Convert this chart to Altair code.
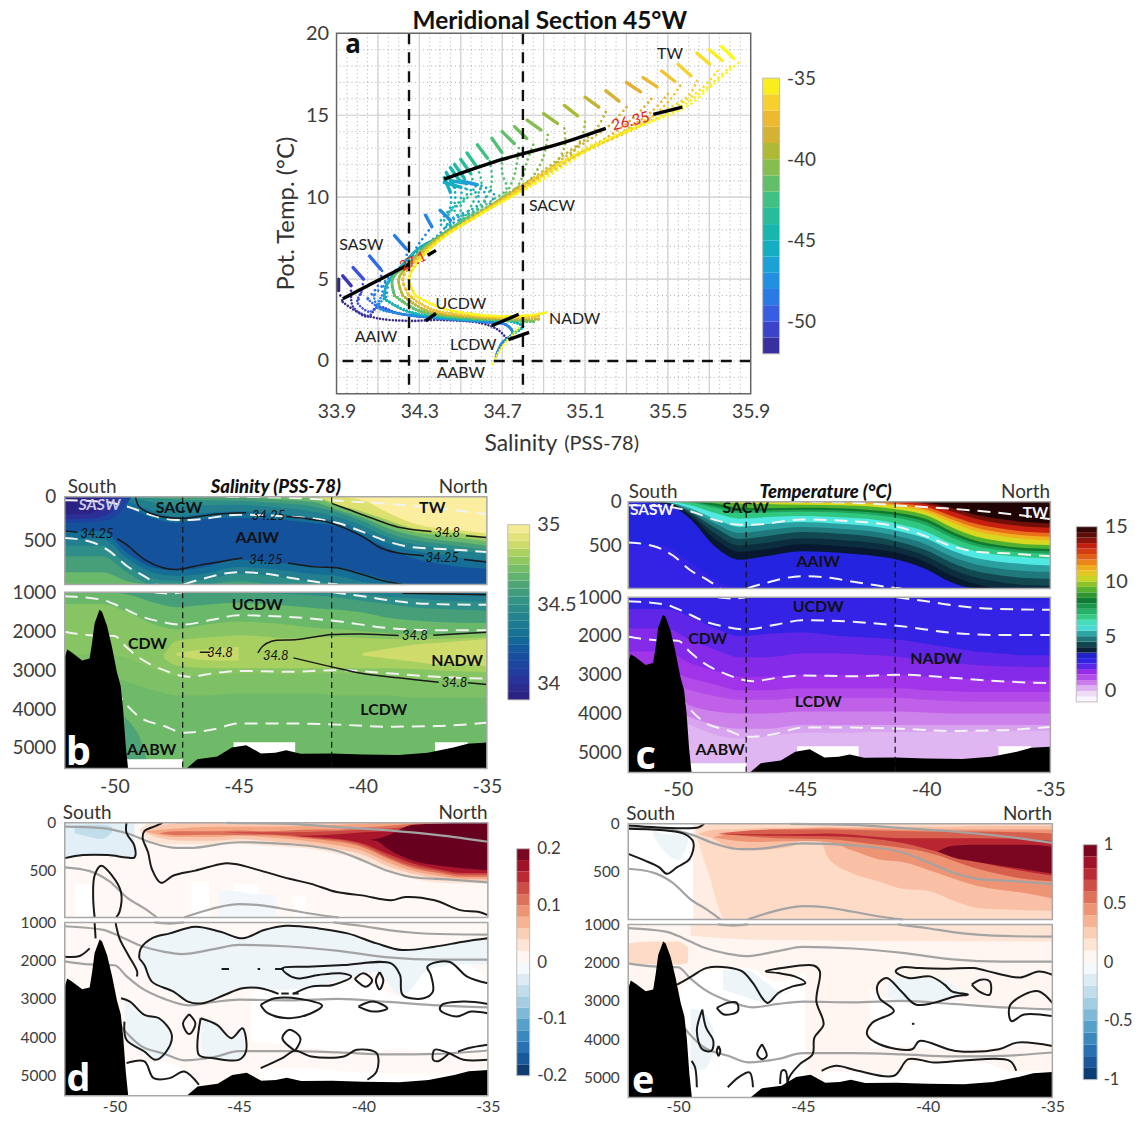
import altair as alt
import pandas as pd

FONT = "Lato"
INK = "#3c3c3c"
GAP_DEPTH = 1000.01   # first depth of the lower half of the broken depth axis

# ------------------------------------------------------------------ shared section values
L = [-52, -50.5, -49.5, -48.5, -47.5, -46.5, -45, -43.5, -42, -41, -40, -39, -38, -37, -36, -35]
LON_TICKS = [-50, -45, -40, -35]
SEAMOUNT_LON = [-52, -51.9, -51.7, -51.3, -51, -50.9, -50.8, -50.6, -50.5, -50.3, -50.1, -49.9, -49.75, -49.65, -49.55, -49.45]
SEAMOUNT_DEP = [2680, 2470, 2550, 2750, 2700, 2300, 1800, 1450, 1500, 1850, 2400, 3050, 3400, 4000, 4900, 5530]
RIDGE_LON = [-47.1, -46.66, -45.86, -45.27, -44.69, -44.1, -43.52, -43.08, -42.5, -41.25, -40.01, -38.55, -37.38, -36.35, -35.77, -35]
RIDGE_DEP = [5530, 5290, 5220, 4990, 4930, 5140, 5120, 5060, 5150, 5140, 5165, 5180, 5120, 4990, 4890, 4860]
WHITE_PATCH = [(-45.2, -42.72, 4850, 5160), (-37.09, -35.77, 4850, 5100), (-49.51, -47.25, 5290, 5530)]

ISO_TOP = [
    ([-45.5, -43, -41, -39, -37, -35], [0, 10, 45, 80, 130, 200]),
    ([-52, -50.5, -49.5, -48.5, -47.5, -47, -45, -43, -41, -40, -39, -38, -36.5, -35],
     [40, 55, 110, 210, 265, 265, 205, 225, 300, 400, 510, 575, 600, 630]),
    ([-52, -51, -50.2, -49.5, -48.8, -48.3], [470, 510, 620, 790, 905, 1000]),
    ([-47.2, -46.5, -45, -44, -43, -41.5, -41], [1000, 940, 860, 875, 920, 985, 1000]),
]
ISO_LOW = [
    ([-48.4, -47.8, -47.2], [1000, 1030, 1000]),
    ([-41.2, -40, -39, -38, -36.5, -35], [1000, 1100, 1200, 1270, 1310, 1320]),
    ([-52, -50.5, -49.8, -49, -48, -47.3, -46, -45, -43, -41, -39, -37, -35],
     [1100, 1190, 1360, 1600, 1770, 1830, 1700, 1590, 1630, 1745, 1915, 1975, 1975]),
    ([-52, -51, -50, -49.5, -49, -48, -47, -46, -45, -43, -41, -39, -37, -35],
     [2020, 2100, 2120, 2420, 2680, 3000, 3170, 3080, 3020, 3040, 3000, 3080, 3170, 3220]),
    ([-50, -49.5, -49, -48, -47.2, -46, -45, -43, -41, -39, -37, -35],
     [3500, 3900, 4200, 4436, 4607, 4520, 4368, 4368, 4400, 4453, 4436, 4350]),
]

# ------------------------------------------------------------------ salinity (b)
SAL_DOMAIN = [33.9, 34.0, 34.1, 34.2, 34.3, 34.4, 34.5, 34.6, 34.7, 34.8, 34.9, 35.0]
SAL_RANGE = ["#2b1f7c", "#2b2f96", "#1e429f", "#14529c", "#156e96", "#217f8f", "#2e8f88", "#479f7a",
             "#6ab86a", "#9bcc5e", "#dce06f", "#fbee9f"]
SAL_FILL_TOP = [
    (35.0, [0] * 16),
    (34.9, [0, 0, 0, 0, 0, 0, 0, 0, 0, 0, 40, 180, 300, 360, 385, 420]),
    (34.8, [0, 0, 0, 0, 0, 0, 0, 0, 0, 90, 170, 265, 360, 400, 420, 465]),
    (34.7, [0, 0, 0, 0, 0, 0, 0, 0, 15, 110, 200, 310, 400, 440, 470, 510]),
    (34.6, [0, 0, 0, 0, 0, 0, 10, 30, 60, 150, 240, 360, 440, 490, 520, 560]),
    (34.5, [0, 0, 0, 15, 30, 40, 45, 70, 110, 180, 280, 410, 490, 530, 570, 600]),
    (34.4, [0, 0, 5, 60, 110, 100, 90, 120, 170, 230, 330, 460, 540, 580, 620, 650]),
    (34.3, [0, 0, 50, 160, 230, 190, 165, 190, 240, 285, 390, 530, 610, 660, 700, 730]),
    (34.2, [0, 10, 110, 240, 300, 260, 240, 260, 300, 340, 450, 590, 700, 760, 800, 820]),
    (34.3, [400, 390, 640, 800, 840, 810, 720, 750, 790, 810, 870, 950, 1010, 1080, 1100, 1100]),
    (34.4, [480, 480, 700, 860, 900, 880, 800, 830, 880, 900, 970, 1050, 1100, 1100, 1100, 1100]),
    (34.5, [560, 560, 770, 930, 960, 950, 880, 910, 970, 990, 1060, 1100, 1100, 1100, 1100, 1100]),
    (34.6, [680, 680, 860, 1000, 1040, 1020, 960, 1000, 1050, 1080, 1100, 1100, 1100, 1100, 1100, 1100]),
    (34.7, [860, 860, 960, 1080, 1100, 1100, 1100, 1100, 1100, 1100, 1100, 1100, 1100, 1100, 1100, 1100]),
]
SAL_LENS_TOP = [
    (34.1, [-52, -51, -50, -49.6, -49.3], [0, 0, 0, 0, 0], [300, 290, 240, 120, 0]),
    (34.0, [-52, -51, -50.2, -49.8], [0, 0, 0, 0], [260, 250, 190, 80]),
    (33.92, [-52, -51, -50.5], [0, 0, 0], [200, 190, 120]),
]
SAL_FILL_LOW = [
    (34.3, [1000] * 16),
    (34.4, [1000, 1000, 1000, 1000, 1000, 1000, 1000, 1000, 1000, 1000, 1000, 1000, 1010, 1030, 1060, 1080]),
    (34.5, [1000, 1000, 1000, 1000, 1000, 1000, 1000, 1000, 1000, 1000, 1050, 1110, 1150, 1200, 1220, 1240]),
    (34.6, [1000, 1000, 1000, 1000, 1000, 1020, 1000, 1030, 1080, 1130, 1220, 1300, 1380, 1420, 1450, 1470]),
    (34.7, [1000, 1000, 1050, 1250, 1380, 1330, 1270, 1320, 1400, 1450, 1520, 1650, 1720, 1760, 1780, 1790]),
    (34.76, [1300, 1300, 1500, 1800, 1950, 1850, 1750, 1800, 1900, 1950, 2000, 2050, 2080, 2080, 2070, 2050]),
    (34.74, [2600, 2600, 2700, 2950, 3150, 3150, 3100, 3100, 3100, 3100, 3120, 3150, 3200, 3250, 3280, 3300]),
    (34.71, [3100, 3100, 3300, 3500, 3650, 3650, 3600, 3600, 3600, 3650, 3650, 3650, 3700, 3700, 3700, 3700]),
]
SAL_LENS_LOW = [
    (34.62, [-49.6, -49.3, -49, -48.7], [4200, 4400, 4700, 5300], [5530, 5530, 5530, 5530]),
    (34.82, [-48, -47.5, -46, -45, -43, -41, -39, -37, -35],
     [2600, 2250, 2150, 2100, 2180, 2150, 2200, 2200, 2150], [2700, 2880, 2950, 2950, 2950, 2950, 2950, 3000, 3050]),
    (34.88, [-40, -39, -38, -37, -36, -35], [2560, 2450, 2350, 2300, 2250, 2200], [2620, 2700, 2780, 2850, 2850, 2900]),
    (34.87, [-47.5, -46, -45], [2550, 2450, 2400], [2620, 2750, 2750]),
]
SAL_LINES_TOP = [
    ([-49.15, -49, -48.34, -47.32, -45.86, -44.69], [0, 113, 208, 245, 196, 181]),
    ([-43.08, -41.91, -41.25, -40.01, -39.28, -38.55, -37.53], [226, 264, 302, 453, 585, 642, 672]),
    ([-35.92, -35], [717, 743]),
    ([-52, -51.49], [389, 404]),
    ([-49.88, -49.51, -48.78, -48.05, -47.47, -46.44, -44.84], [479, 547, 717, 811, 830, 774, 698]),
    ([-43.01, -41.91, -41.04, -40.01, -39.13, -38.4], [755, 800, 811, 887, 962, 1000]),
    ([-41.25, -40.6, -39.43, -38.55, -37.23], [75, 143, 264, 347, 396]),
    ([-35.84, -35], [445, 464]),
]
SAL_LINES_LOW = [
    ([-38.4, -35], [1020, 1060]),
    ([-46.56, -46.15], [2539, 2539]),
    ([-44.22, -44.03, -43.67, -42.64, -41.25, -40.01, -38.55], [2556, 2385, 2257, 2214, 2086, 2069, 2111]),
    ([-37.16, -35.92, -35], [2103, 2060, 2026]),
    ([-42.79, -41.25, -40.01, -38.55, -36.94], [2684, 2915, 3086, 3197, 3308]),
    ([-35.77, -35], [3326, 3368]),
]

# ------------------------------------------------------------------ temperature (c)
TMP_DOMAIN = [-1, -0.3, 0.3, 1, 1.7, 2.5, 3.2, 3.6, 4.3, 5.2, 5.9, 6.8, 8.3, 9.2, 10.4, 11.2, 12, 13.2, 14, 15]
TMP_RANGE = ["#ffffff", "#efdff8", "#dcaef0", "#c060e8", "#9c2ce8", "#3a22e6", "#2424e0", "#081830", "#124850",
             "#2aa0a0", "#50e8e0", "#30c880", "#0e7a30", "#50b030", "#d8d820", "#f0b020", "#e87018", "#c82010",
             "#701008", "#200404"]
TMP_FILL_TOP = [
    (15, [0] * 16),
    (14, [0, 0, 0, 0, 0, 0, 0, 0, 0, 0, 10, 70, 150, 200, 235, 250]),
    (13.2, [0, 0, 0, 0, 0, 0, 0, 0, 0, 0, 30, 110, 195, 250, 285, 300]),
    (12, [0, 0, 0, 0, 0, 0, 0, 0, 0, 20, 60, 160, 255, 310, 345, 360]),
    (11.2, [0, 0, 0, 0, 0, 0, 0, 0, 10, 40, 90, 200, 300, 355, 390, 405]),
    (10.4, [0, 0, 0, 0, 0, 0, 10, 15, 30, 60, 115, 235, 340, 395, 430, 445]),
    (9.2, [0, 0, 0, 0, 20, 25, 35, 40, 60, 95, 155, 290, 400, 455, 490, 500]),
    (8.3, [0, 0, 0, 20, 70, 75, 70, 75, 100, 135, 200, 340, 450, 505, 535, 545]),
    (7.5, [0, 0, 5, 45, 100, 100, 92, 100, 128, 165, 235, 375, 480, 532, 562, 572]),
    (6.8, [0, 0, 10, 70, 130, 125, 115, 125, 155, 195, 270, 410, 510, 560, 590, 600]),
    (5.9, [0, 0, 40, 130, 195, 180, 165, 180, 210, 265, 345, 480, 570, 615, 640, 655]),
    (5.2, [0, 5, 75, 200, 290, 260, 235, 255, 290, 345, 425, 560, 650, 695, 720, 735]),
    (4.8, [0, 7, 97, 250, 360, 330, 292, 312, 350, 408, 492, 630, 725, 772, 800, 812]),
    (4.3, [0, 10, 120, 300, 430, 400, 350, 370, 410, 470, 560, 700, 800, 850, 880, 890]),
    (3.9, [0, 12, 140, 365, 505, 475, 420, 440, 480, 535, 630, 775, 875, 930, 960, 970]),
    (3.6, [0, 15, 160, 430, 580, 550, 490, 510, 550, 600, 700, 850, 950, 1010, 1040, 1050]),
    (3.2, [0, 25, 200, 520, 670, 630, 570, 590, 630, 680, 780, 930, 1040, 1100, 1100, 1100]),
    (2.7, [500, 520, 700, 900, 1000, 1000, 1000, 1000, 1000, 1050, 1100, 1100, 1100, 1100, 1100, 1100]),
]
TMP_FILL_LOW = [
    (3.2, [1000] * 16),
    (2.7, [1000, 1000, 1000, 1000, 1000, 1000, 1000, 1000, 1000, 1000, 1020, 1050, 1060, 1070, 1080, 1080]),
    (2.2, [1300, 1300, 1500, 1800, 2000, 1950, 1900, 2000, 2050, 2100, 2200, 2300, 2400, 2450, 2500, 2500]),
    (1.9, [1800, 1800, 2100, 2350, 2550, 2550, 2450, 2450, 2500, 2550, 2650, 2700, 2750, 2780, 2800, 2800]),
    (1.6, [2400, 2400, 2700, 2900, 3050, 3050, 3000, 3000, 3000, 3000, 3050, 3100, 3120, 3150, 3150, 3150]),
    (1.3, [2900, 2900, 3100, 3250, 3400, 3400, 3350, 3350, 3350, 3350, 3400, 3420, 3450, 3450, 3450, 3450]),
    (1.0, [3200, 3200, 3400, 3550, 3650, 3650, 3600, 3600, 3600, 3600, 3650, 3680, 3700, 3700, 3700, 3700]),
    (0.7, [3500, 3500, 3800, 3950, 4000, 4000, 3950, 3950, 3950, 3950, 3980, 4000, 4000, 4000, 4000, 4000]),
    (0.4, [3800, 3800, 4100, 4300, 4400, 4400, 4300, 4300, 4300, 4300, 4300, 4300, 4300, 4300, 4300, 4300]),
    (0.2, [4000, 4000, 4300, 4550, 4650, 4600, 4500, 4500, 4480, 4480, 4480, 4480, 4460, 4460, 4450, 4450]),
]

# ------------------------------------------------------------------ trends (d, e)
RDBU = ["#053061", "#2166ac", "#4393c3", "#92c5de", "#d1e5f0", "#ffffff", "#fddbc7", "#f4a582", "#d6604d", "#b2182b", "#67001f"]
D_DOMAIN = [-0.2, -0.16, -0.12, -0.08, -0.04, 0, 0.04, 0.08, 0.12, 0.16, 0.2]
E_DOMAIN = [-1, -0.8, -0.6, -0.4, -0.2, 0, 0.2, 0.4, 0.6, 0.8, 1]

D_LENS_TOP = [
    (0.008, [-52, -35], [0, 0], [1100, 1100]),
    (0.0, [-51.6, -50.9], [650, 650], [1000, 1000]),
    (0.0, [-46.9, -46.2], [620, 620], [1000, 1000]),
    (0.0, [-45.2, -44.2], [650, 650], [1000, 1000]),
    (-0.012, [-45.8, -45.2, -44.2, -43.5], [720, 720, 760, 760], [1000, 1000, 1000, 1000]),
    (0.0, [-42.8, -42.3], [780, 780], [1000, 1000]),
    (-0.025, [-52, -50.5, -49.9, -49.5, -49.2], [0, 0, 0, 0, 0], [370, 340, 340, 360, 360]),
    (-0.05, [-51.6, -51, -50.5, -50.1], [30, 20, 20, 40], [110, 150, 170, 100]),
    (0.03, [-49, -48.5, -47.5, -46, -45, -44, -42, -41, -40, -39, -38, -37, -36, -35],
     [70, 0, 0, 0, 0, 0, 0, 0, 0, 0, 0, 0, 0, 0],
     [70, 200, 230, 230, 220, 240, 280, 330, 400, 520, 590, 630, 640, 640]),
    (0.055, [-48.9, -48, -47, -46, -45, -44, -42, -41, -40, -39, -38, -37, -36, -35],
     [85, 20, 0, 0, 0, 0, 0, 0, 0, 0, 0, 0, 0, 0],
     [85, 170, 190, 190, 170, 190, 240, 280, 340, 460, 540, 590, 610, 620]),
    (0.08, [-48.8, -47.5, -46, -45, -44, -42, -41, -40, -39, -38, -37, -36, -35],
     [90, 60, 40, 40, 40, 30, 20, 10, 0, 0, 0, 0, 0],
     [90, 150, 150, 130, 150, 200, 240, 300, 420, 510, 560, 590, 590]),
    (0.11, [-48.2, -47.5, -46, -45, -44, -42, -41, -40, -39, -38, -37, -36, -35],
     [110, 90, 90, 80, 90, 70, 70, 50, 30, 10, 0, 0, 0],
     [110, 130, 125, 130, 130, 170, 200, 260, 380, 480, 530, 570, 570]),
    (0.135, [-45.6, -45, -43, -41.5, -41, -40, -39, -38, -37, -36, -35],
     [105, 100, 100, 90, 85, 70, 60, 30, 10, 10, 0], [105, 110, 130, 170, 180, 240, 360, 460, 510, 550, 550]),
    (0.165, [-42.8, -42, -41, -40, -39, -38, -37, -36, -35],
     [140, 135, 120, 100, 90, 50, 20, 30, 30], [140, 150, 170, 220, 330, 430, 490, 530, 530]),
    (0.2, [-39.9, -39.5, -39, -38, -37, -36, -35], [180, 170, 130, 20, 10, 0, 0], [180, 190, 280, 400, 450, 480, 500]),
]
D_LENS_LOW = [
    (0.008, [-52, -35], [1000, 1000], [5530, 5530]),
    (-0.016, [-49, -48.5, -47.8, -46.8, -45.7, -44.9, -44, -43, -41.8, -40.6, -39.5, -38.5, -37.2, -36, -35],
     [1900, 1420, 1290, 1110, 1240, 1420, 1200, 1090, 1160, 1290, 1550, 1720, 1640, 1500, 1420],
     [2000, 2550, 2810, 3100, 2900, 2720, 2720, 2860, 2680, 2450, 2300, 2900, 2350, 2100, 2100]),
    (0.0, [-44.5, -42, -40, -38.5, -37.3, -36, -35], [2800, 2700, 2500, 2950, 2200, 2100, 2500],
     [4100, 4300, 4400, 4300, 4400, 4400, 4400]),
    (-0.016, [-49.6, -48.8, -48.2, -47.7], [3000, 3420, 3500, 3940], [4070, 4380, 4590, 4400]),
    (-0.016, [-46.5, -45.9, -45.3, -44.8], [3510, 3680, 4030, 3770], [4460, 4550, 4590, 4590]),
    (0.0, [-49.5, -48.2, -47, -46.6], [4650, 4650, 5000, 5300], [5530, 5530, 5530, 5530]),
    (0.0, [-44.2, -42.5, -39.5, -36.5, -35], [4800, 4800, 4950, 4950, 4800], [5300, 5300, 5300, 5300, 5300]),
]
D_LINES_TOP = [
    ([-52, -51.27, -50.25, -49.52, -49.2, -49.2, -49.52, -49.52], [373, 341, 341, 366, 366, 244, 105, 0]),
    ([-48.07, -48.36, -48.8, -48.87, -48.65, -48.5, -48.14, -47.63, -46.76, -45.6, -45.15, -44.13, -42.97, -42.1,
      -41.07, -40.06, -38.89, -38.31, -37.14, -36.12, -35.39, -35],
     [0, 35, 87, 157, 314, 488, 634, 557, 505, 429, 436, 505, 592, 645, 732, 767, 819, 784, 819, 923, 941, 976]),
    ([-50.8, -50.86, -50.8, -50.54, -50.1, -49.74, -49.8, -49.93], [1000, 767, 557, 453, 557, 732, 941, 1000]),
]
D_LINES_LOW = [
    ([-50.8, -50.76], [1000, 1417]),
    ([-49.96, -49.8, -49.45, -49.09, -49.1], [1000, 1417, 1852, 2287, 2417]),
    ([-52, -51.4, -51], [1896, 1878, 1680]),
    ([-49.01, -48.94, -48.5, -47.78, -46.76, -45.74, -44.86, -43.99, -43.11, -41.8, -40.64, -39.47, -38.45, -37.14, -35.98, -35],
     [1939, 1678, 1417, 1287, 1113, 1244, 1417, 1200, 1087, 1157, 1287, 1548, 1722, 1635, 1505, 1417]),
    ([-49.01, -48.8, -48.5, -47.63, -47.05, -46.46, -45.59, -44.86, -44.13, -43.41],
     [1939, 2114, 2549, 2810, 3071, 3114, 2897, 2723, 2723, 2870]),
    ([-42.82, -42.1, -41.22, -40.49, -40.93, -41.8, -42.68, -43.11, -43.26, -42.24, -40.78, -38.89, -38.53, -38.42,
      -37.58, -37.21, -37.29, -37.43, -36.56, -35.83, -35],
     [2870, 2679, 2636, 2418, 2331, 2375, 2462, 2331, 2200, 2157, 2114, 2070, 2375, 2897, 2984, 2810, 2375, 2157, 2027, 2418, 2592]),
    ([-40.35, -40.0, -39.65, -39.9, -40.35], [2480, 2330, 2520, 2680, 2480]),
    ([-39.35, -39.2, -39.35, -39.5, -39.35], [2300, 2520, 2750, 2520, 2300]),
    ([-44.13, -43.55, -42.53, -41.66, -42.1, -42.97, -43.84, -44.13], [3158, 2984, 3001, 3175, 3375, 3505, 3375, 3158]),
    ([-40.2, -39.6, -39.04, -39.6, -40.2], [3200, 3070, 3250, 3330, 3200]),
    ([-35, -35.98, -36.85, -36.92, -36.27, -35.68, -35], [3131, 3071, 3158, 3288, 3462, 3332, 3375]),
    ([-49.74, -49.38, -48.8, -48.21, -47.7, -47.92, -48.36, -48.8, -49.52, -49.6],
     [2984, 3071, 3419, 3506, 3941, 4376, 4593, 4376, 4071, 3593]),
    ([-47, -46.75, -47, -47.25, -47], [3400, 3650, 3920, 3650, 3400]),
    ([-46.54, -45.88, -45.3, -44.86, -44.72, -45.01, -46.03, -46.61, -46.54],
     [3506, 3680, 4027, 3767, 4376, 4593, 4550, 4463, 3506]),
    ([-42.75, -43.26, -42.97, -42.53, -42.75], [4358, 4027, 3810, 4027, 4358]),
    ([-44.13, -43.26, -42.75, -42.1, -40.78, -40.27, -39.47, -39.47, -39.84],
     [4811, 4550, 4358, 4506, 4506, 4332, 4419, 4898, 5115]),
    ([-35, -35.98, -36.56, -37.14, -37.2, -37, -36.56], [4590, 4590, 4420, 4330, 4590, 4630, 4420]),
    ([-36.2, -35.8, -35], [4380, 4290, 4200]),
    ([-49.52, -48.8, -48.43, -47.78, -47.2, -46.61], [4680, 4637, 5072, 5072, 4898, 5246]),
    ([-45.7, -45.4], [2218, 2218]),
    ([-44.25, -44.15], [2218, 2218]),
    ([-43.55, -43.2], [2218, 2218]),
    ([-43.3, -43.0], [2860, 2860]),
    ([-42.85, -42.6], [2860, 2860]),
]

E_LENS_TOP = [
    (0.1, [-49.4, -35], [0, 0], [1100, 1100]),
    (0.0, [-52, -49.4], [0, 0], [1100, 1100]),
    (-0.08, [-51, -50.5, -50, -49.6], [60, 110, 110, 90], [120, 300, 380, 200]),
    (0.2, [-49.3, -48.8, -48.1, -46, -35], [40, 10, 0, 0, 0], [100, 500, 1000, 1100, 1100]),
    (0.3, [-49.2, -48.5, -48, -47, -46.5, -45.5, -45, -44.3, -44, -43, -42, -41, -40, -39, -38, -36.5, -35],
     [110, 60, 60, 50, 40, 40, 40, 30, 30, 30, 30, 30, 30, 30, 20, 20, 20],
     [110, 170, 250, 280, 270, 240, 170, 180, 350, 520, 600, 680, 700, 800, 880, 900, 910]),
    (0.45, [-48.6, -47, -45, -44, -43, -42, -41, -40, -38, -36, -35],
     [140, 70, 50, 40, 50, 50, 60, 60, 60, 60, 60], [140, 190, 180, 190, 280, 370, 400, 480, 650, 730, 780]),
    (0.6, [-48.4, -46, -44, -42, -40, -38, -36, -35], [100, 60, 60, 70, 80, 80, 90, 100], [100, 150, 160, 220, 300, 470, 580, 600]),
    (0.76, [-48.5, -46, -44, -41, -39.5, -38, -36, -35], [110, 110, 100, 150, 150, 150, 160, 180], [110, 125, 130, 200, 300, 400, 500, 540]),
    (0.95, [-39.6, -39, -38, -36, -35], [290, 230, 220, 220, 240], [290, 350, 400, 480, 520]),
]
E_LENS_LOW = [
    (0.05, [-52, -35], [1000, 1000], [5530, 5530]),
    (0.15, [-49.5, -47, -35], [1000, 1000, 1000], [1300, 1400, 1450]),
    (0.2, [-52, -51, -50, -49.6], [1500, 1450, 1450, 1600], [2000, 2050, 2050, 2000]),
    (0.0, [-49.9, -48.8, -47.2, -46, -44.6], [2700, 2200, 2150, 2500, 2100], [5530, 5530, 5530, 5530, 5530]),
    (-0.08, [-48.2, -47.3, -46.5, -45.8, -45], [2200, 2200, 2500, 2800, 2600], [2700, 2900, 3050, 2800, 2650]),
    (-0.08, [-49.5, -49, -48.6], [3200, 3300, 3700], [4800, 4800, 4400]),
    (0.05, [-44.9, -44.4, -42.3, -41.8], [1900, 1900, 1900, 1900], [5000, 5000, 5000, 5000]),
    (0.0, [-42.3, -41, -39, -37, -36.6, -35], [2700, 3050, 3000, 3200, 3200, 3300], [4250, 4200, 4300, 4200, 4150, 4150]),
    (-0.08, [-41.6, -41, -40, -39, -38.5], [2500, 2400, 2400, 2550, 2850], [2900, 3050, 3050, 2900, 2880]),
    (0.0, [-44.2, -42, -41.2, -40.5, -38, -36.4, -35], [4850, 4900, 4950, 4600, 4600, 4850, 4850], [5300, 5300, 5300, 5300, 5300, 5300, 5300]),
]
E_LINES_TOP = [
    ([-52, -51.35, -50.77, -50.45, -50.04, -49.54, -49.39, -49.75, -50.48, -52], [314, 383, 453, 523, 453, 366, 192, 105, 70, 52]),
    ([-52, -50.04, -49.17, -48.96], [17, 45, 35, 0]),
]
E_LINES_LOW = [
    ([-50.04, -49.46, -48.88, -48.01, -47.43, -47, -46.42, -45.99, -45.41, -44.9, -45.33, -45.99, -46.49, -45.84, -44.54,
      -44.32, -44.46, -44.17, -44.54, -44.61, -45.12, -45.55, -45.62],
     [2576, 2360, 2143, 2126, 2230, 2533, 3053, 2793, 2620, 2533, 2360, 2273, 2230, 2143, 2082, 2230, 3009, 3615, 3962,
      4395, 4654, 5000, 5174]),
    ([-48.45, -48.01, -47.65, -47.61, -48.16, -48.45], [3182, 3052, 3052, 3269, 3355, 3182]),
    ([-49.03, -48.88, -48.59, -48.67, -49.03, -49.25, -49.03], [3226, 3702, 4048, 4308, 4265, 3789, 3226]),
    ([-48.38, -48.31, -48.38, -48.45, -48.38], [4178, 4308, 4438, 4308, 4178]),
    ([-46.64, -46.45, -46.64, -46.83, -46.64], [4135, 4438, 4525, 4395, 4135]),
    ([-49.46, -49.32, -49.25], [4568, 4741, 5260]),
    ([-48.01, -47.58, -47.14, -47], [5260, 5000, 4870, 5260]),
    ([-45.91, -45.84, -45.7, -45.62], [5174, 4828, 4828, 5174]),
    ([-44.25, -43.67, -42.8, -41.35, -40.77, -39.75, -38.45, -36.71, -36.45], [4828, 4698, 4828, 4958, 4525, 4611, 4551, 4568, 4828]),
    ([-35, -35.55, -36.28, -37.29, -38.16, -39.17, -40.33, -41.06, -41.28, -40.77, -39.9, -39.32, -39.03, -38.38, -38.88,
      -39.75, -40.48, -41.06, -41.64, -42, -41.93, -41.35, -42.22, -42.43, -41.93, -40.62, -40.33, -38.88, -37.14, -36.42, -35],
     [2316, 2230, 2386, 2273, 2143, 2160, 2143, 2126, 2230, 2403, 2360, 2576, 2749, 2836, 2879, 3052, 3096, 2749, 2403,
      2576, 2923, 3269, 3572, 3875, 4135, 4265, 4048, 4308, 4265, 4092, 4178]),
    ([-38.23, -37.87, -37.51, -37.51, -37.94, -38.23], [2576, 2446, 2490, 2836, 2749, 2576]),
    ([-35, -35.55, -36.13, -36.71, -36.64, -36.13, -35], [3052, 2749, 2836, 3139, 3529, 3356, 3399]),
    ([-40.63, -40.53], [3600, 3600]),
]

# ------------------------------------------------------------------ T-S diagram (a)
LAT_DOMAIN = [-52, -51, -50, -48.5, -47, -45, -43, -41, -39.5, -38, -36.5, -35]
LAT_RANGE = ["#352a87", "#3a36b5", "#3e50e0", "#2a7ae6", "#1f9adf", "#10b4b8", "#2fc090", "#72bf5c", "#aeb935",
             "#e8ae32", "#f7d02e", "#f9fb15"]
MID_1 = [(34.6, 9.0), (34.4, 7.4), (34.29, 6.0), (34.25, 5.0), (34.28, 4.0), (34.4, 3.25), (34.6, 2.8), (34.8, 2.75), (34.91, 2.95)]
MID_2 = [(34.58, 8.9), (34.38, 7.3), (34.27, 6.0), (34.22, 5.0), (34.25, 4.0), (34.36, 3.15), (34.6, 2.7), (34.8, 2.65), (34.89, 2.75)]
MID_3 = [(34.55, 8.7), (34.36, 7.2), (34.26, 6.0), (34.2, 5.0), (34.22, 4.0), (34.33, 3.1), (34.58, 2.65), (34.8, 2.55), (34.88, 2.55)]
MID_C = [(34.5, 8.5), (34.35, 7.2), (34.25, 6.0), (34.17, 5.0), (34.18, 4.0), (34.3, 3.05), (34.55, 2.6), (34.78, 2.45), (34.85, 2.4)]
MID_S = [(34.45, 8.0), (34.3, 6.9), (34.2, 5.6), (34.14, 4.6), (34.13, 3.8), (34.25, 3.0), (34.5, 2.55), (34.75, 2.4), (34.8, 2.1), (34.74, 1.6)]
MID_SS = [(34.1, 3.3), (34.2, 2.9), (34.4, 2.6), (34.6, 2.4), (34.72, 2.2), (34.75, 1.7), (34.7, 1.1), (34.67, 0.3)]
STATIONS = [
    (-52, [(33.91, 5.0), (33.91, 4.3), (33.93, 3.6), (34.0, 3.0), (34.1, 2.6), (34.25, 2.45), (34.4, 2.5), (34.6, 2.3), (34.68, 1.9), (34.72, 1.4)], []),
    (-51, [(33.93, 5.2), (33.97, 4.6), (33.97, 3.9), (33.98, 3.3), (34.05, 2.7)], MID_SS),
    (-50, [(33.98, 5.7), (34.03, 5.0), (34.02, 4.2), (34.0, 3.6), (34.06, 3.0)], MID_SS),
    (-49, [(34.06, 6.4), (34.12, 5.5), (34.1, 4.6), (34.05, 3.8)], MID_SS),
    (-48.5, [(34.18, 7.65), (34.24, 6.8), (34.23, 6.0), (34.15, 5.0), (34.08, 4.0)], MID_SS),
    (-48, [(34.33, 8.9), (34.36, 8.2), (34.3, 7.2), (34.25, 6.2), (34.14, 5.0), (34.12, 4.0)], MID_SS),
    (-47.5, [(34.4, 9.2), (34.45, 8.6), (34.4, 7.8), (34.3, 6.8), (34.16, 5.0), (34.14, 3.9)], MID_SS),
    (-47, [(34.5, 11.0), (34.6, 10.7), (34.66, 10.2), (34.62, 9.3), (34.45, 8.3)], MID_S),
    (-46.5, [(34.45, 11.0), (34.55, 10.8), (34.62, 10.2), (34.6, 9.4), (34.45, 8.5)], MID_S),
    (-46, [(34.42, 10.9), (34.5, 10.6), (34.58, 10.2), (34.58, 9.5), (34.45, 8.6)], MID_S),
    (-45.5, [(34.42, 11.2), (34.45, 10.3), (34.45, 9.4), (34.4, 8.4)], MID_S),
    (-45, [(34.43, 11.5), (34.47, 10.6), (34.47, 9.6), (34.42, 8.6)], MID_S),
    (-44.5, [(34.45, 11.8), (34.5, 10.9), (34.5, 9.9), (34.44, 8.9)], MID_S),
    (-44, [(34.47, 12.0), (34.52, 11.1), (34.53, 10.2), (34.47, 9.2)], MID_C),
    (-43.5, [(34.5, 12.3), (34.55, 11.4), (34.56, 10.4), (34.5, 9.5)], MID_C),
    (-43, [(34.53, 12.7), (34.58, 11.8), (34.6, 10.8), (34.56, 9.7)], MID_C),
    (-42.5, [(34.58, 13.2), (34.64, 12.2), (34.65, 11.0), (34.62, 9.9)], MID_C),
    (-42, [(34.65, 13.6), (34.7, 12.7), (34.7, 11.5), (34.72, 10.5), (34.65, 9.8)], MID_C),
    (-41.5, [(34.7, 14.0), (34.78, 13.0), (34.77, 12.0), (34.75, 11.0), (34.7, 10.0)], MID_C),
    (-41, [(34.76, 14.3), (34.85, 13.2), (34.82, 12.2), (34.8, 11.3), (34.75, 10.3)], MID_C),
    (-40.5, [(34.82, 14.7), (34.92, 13.8), (34.9, 12.5), (34.85, 11.3), (34.78, 10.5)], MID_3),
    (-40, [(34.9, 15.1), (35.0, 14.2), (35.0, 13.0), (34.92, 11.6), (34.78, 10.6)], MID_3),
    (-39.5, [(35.0, 15.6), (35.1, 14.6), (35.08, 13.5), (34.98, 11.9), (34.8, 10.8)], MID_3),
    (-39, [(35.1, 16.1), (35.2, 15.2), (35.15, 14.1), (34.98, 12.4), (34.82, 10.9)], MID_3),
    (-38.5, [(35.2, 16.5), (35.3, 15.5), (35.22, 14.4), (35.05, 12.9), (34.85, 11.0)], MID_2),
    (-38, [(35.3, 17.0), (35.42, 16.0), (35.33, 14.8), (35.2, 13.6), (34.9, 11.4)], MID_2),
    (-37.5, [(35.38, 17.3), (35.5, 16.3), (35.42, 15.2), (35.28, 14.0), (35.12, 13.0), (34.85, 10.9)], MID_2),
    (-37, [(35.47, 17.7), (35.56, 16.8), (35.5, 15.8), (35.37, 14.4), (35.15, 13.1), (34.9, 11.5), (34.72, 10.0)], MID_2),
    (-36.5, [(35.55, 18.1), (35.64, 17.1), (35.6, 16.2), (35.42, 14.9), (35.2, 13.4), (34.95, 11.9), (34.75, 10.2)], MID_1),
    (-36, [(35.64, 18.8), (35.74, 17.7), (35.66, 16.6), (35.5, 15.2), (35.25, 13.7), (35.0, 12.2), (34.8, 10.5)], MID_1),
    (-35.5, [(35.7, 19.0), (35.8, 17.95), (35.7, 16.8), (35.55, 15.4), (35.3, 14.0), (35.1, 13.0), (34.85, 10.8)], MID_1),
    (-35, [(35.76, 19.2), (35.84, 18.2), (35.72, 16.9), (35.6, 15.6), (35.4, 14.5), (35.2, 13.5), (34.9, 11.1)], MID_1),
]
DEEP = [(34.78, 2.0), (34.72, 1.2), (34.68, 0.5), (34.65, -0.3)]
ISO_SEGMENTS = [
    [(34.42, 11.1), (34.7, 12.3), (35.0, 13.35), (35.2, 14.2)],
    [(35.43, 15.05), (35.57, 15.5)],
    [(33.93, 3.8), (34.25, 5.9)],
    [(34.34, 6.45), (34.38, 6.75)],
    [(34.33, 2.45), (34.38, 2.9)],
    [(34.65, 2.15), (34.78, 2.85)],
    [(34.73, 1.3), (34.83, 1.75)],
]
SAL_TICKS = [33.9, 34.3, 34.7, 35.1, 35.5, 35.9]
SAL_GRID = [34.1, 34.3, 34.5, 34.7, 34.9, 35.1, 35.3, 35.5, 35.7]
TEMP_TICKS = [0, 5, 10, 15, 20]
SAL_MINOR = [33.9 + 0.05 * i for i in range(41)]
TEMP_MINOR = list(range(-2, 21))

LABELS_A = [("TW", 35.51, 18.75), ("SASW", 34.02, 7.05), ("SACW", 34.94, 9.45), ("UCDW", 34.5, 3.45), ("NADW", 35.05, 2.55),
            ("AAIW", 34.09, 1.45), ("LCDW", 34.56, 0.95), ("AABW", 34.5, -0.75)]
LABELS_B = [("SACW", -47.4, 130), ("TW", -37.2, 130), ("AAIW", -44.25, 470), ("UCDW", -44.25, 1320), ("CDW", -48.67, 2340),
            ("NADW", -36.2, 2770), ("LCDW", -39.15, 4030), ("AABW", -48.5, 5060)]
CONTOUR_B = [("34.25", -50.7, 420), ("34.25", -43.8, 225), ("34.25", -43.9, 725), ("34.25", -36.8, 700), ("34.8", -36.6, 415),
             ("34.8", -45.75, 2555), ("34.8", -43.5, 2625), ("34.8", -37.9, 2130), ("34.8", -36.3, 3330)]
LABELS_C = [("SACW", -47.27, 75), ("AAIW", -44.35, 690), ("UCDW", -44.35, 1240), ("CDW", -48.8, 2090), ("NADW", -39.6, 2600),
            ("LCDW", -44.35, 3700), ("AABW", -48.3, 4950)]

CB_SAL = [33.9, 33.95, 34.0, 34.05, 34.1, 34.15, 34.2, 34.25, 34.3, 34.35, 34.4, 34.45, 34.5, 34.55, 34.6, 34.65, 34.7, 34.75, 34.8, 34.85, 34.9, 34.95, 35.0]
CB_TMP = [-1, -0.5, 0, 0.5, 1, 1.5, 2, 2.5, 3, 3.5, 4, 4.5, 5, 5.5, 6, 6.5, 7, 7.5, 8, 8.5, 9, 9.5, 10, 10.5, 11, 11.5, 12, 12.5, 13, 13.5, 14, 14.5, 15]
CB_D = [-0.2, -0.18, -0.16, -0.14, -0.12, -0.1, -0.08, -0.06, -0.04, -0.02, 0, 0.02, 0.04, 0.06, 0.08, 0.1, 0.12, 0.14, 0.16, 0.18, 0.2]
CB_E = [-1, -0.9, -0.8, -0.7, -0.6, -0.5, -0.4, -0.3, -0.2, -0.1, 0, 0.1, 0.2, 0.3, 0.4, 0.5, 0.6, 0.7, 0.8, 0.9, 1]
CB_LAT = [-52, -51, -50, -49, -48, -47, -46, -45, -44, -43, -42, -41, -40, -39, -38, -37, -36, -35]

BOTTOM = 5530
DEPTH_TICKS = [0, 500, GAP_DEPTH, 2000, 3000, 4000, 5000]
PLAIN = "'' + datum.value"


# ------------------------------------------------------------------ helpers
def gap(w=1, h=1):
    return alt.Chart(pd.DataFrame({"v": [0]})).mark_point(opacity=0).encode(
        x=alt.value(0), y=alt.value(0)).properties(width=w, height=h)


def clamp_top(v):
    return max(0, min(1000, v))


def clamp_low(v):
    return max(GAP_DEPTH, min(BOTTOM, v))


def band_rows(fills, lenses, lons, bottom, clamp, start):
    rows = []
    n = start
    for level, deps in fills:
        for lo, d in zip(lons, deps):
            rows.append(dict(band=f"b{n:03d}", level=level, lon=lo, top=clamp(d), bot=bottom))
        n += 1
    for level, ll, tops, bots in lenses:
        for lo, t, b in zip(ll, tops, bots):
            rows.append(dict(band=f"b{n:03d}", level=level, lon=lo, top=clamp(t), bot=clamp(b)))
        n += 1
    return rows, n


def line_frame(groups, clamp):
    rows = []
    for k, (xs, ys) in enumerate(groups):
        for i, (a, b) in enumerate(zip(xs, ys)):
            rows.append(dict(id=f"l{k:03d}", i=i, lon=a, dep=clamp(b)))
    return rows


def text_layer(rows, size, color="#111", weight="bold", style="normal", angle=0, font=FONT, xs=None, ys=None):
    df = pd.DataFrame(rows, columns=["t", "x", "y"])
    return alt.Chart(df).mark_text(fontSize=size, color=color, fontWeight=weight, fontStyle=style, angle=angle,
                                   font=font, align="center", baseline="middle").encode(
        x=alt.X("x:Q", scale=xs, axis=None), y=alt.Y("y:Q", scale=ys, axis=None), text="t:N")


def section(w, h, rng, tops, lows, col_scale, lines_top, lines_low, iso_style, labels, show_dash, tick_size,
            white_patches=True, label_pad=9, line_width=1.5, x_pad=5):
    xs = alt.Scale(domain=[-52, -35], nice=False, zero=False)
    ys = alt.Scale(domain=[0, 1000, GAP_DEPTH, BOTTOM], range=rng, nice=False, zero=False)
    x_axis = alt.Axis(values=LON_TICKS, title=None, domain=False, ticks=False, grid=False, labelFontSize=tick_size + 0.5,
                      labelColor=INK, labelFont=FONT, labelPadding=x_pad, labelFlush=False, labelExpr=PLAIN)
    y_axis = alt.Axis(values=DEPTH_TICKS, title=None, domain=False, ticks=False, grid=False, labelFontSize=tick_size,
                      labelColor=INK, labelFont=FONT, labelPadding=label_pad, labelExpr="'' + round(datum.value)")
    frame_df = pd.DataFrame({"a": [-52, -52], "b": [-35, -35], "c": [0, GAP_DEPTH], "d": [1000, BOTTOM]})
    X = lambda f: alt.X(f, scale=xs, axis=None)
    Y = lambda f: alt.Y(f, scale=ys, axis=None)
    layers = [alt.Chart(frame_df).mark_rect(color="#ffffff").encode(
        x=alt.X("a:Q", scale=xs, axis=x_axis), x2="b:Q", y=alt.Y("c:Q", scale=ys, axis=y_axis), y2="d:Q")]
    r1, n = band_rows(tops[0], tops[1], L, 1000, clamp_top, 0)
    r2, _ = band_rows(lows[0], lows[1], L, BOTTOM, clamp_low, n)
    layers.append(alt.Chart(pd.DataFrame(r1 + r2)).mark_area(interpolate="monotone").encode(
        x=X("lon:Q"), y=Y("top:Q"), y2="bot:Q",
        color=alt.Color("level:Q", scale=col_scale, legend=None), detail="band:N"))
    if white_patches:
        wp = pd.DataFrame(WHITE_PATCH, columns=["a", "b", "c", "d"])
        layers.append(alt.Chart(wp).mark_rect(color="#ffffff").encode(x=X("a:Q"), x2="b:Q", y=Y("c:Q"), y2="d:Q"))
    iso = pd.DataFrame(line_frame(ISO_TOP, clamp_top) + [dict(r, id="u" + r["id"]) for r in line_frame(ISO_LOW, clamp_low)])
    layers.append(alt.Chart(iso).mark_line(interpolate="monotone", **iso_style).encode(
        x=X("lon:Q"), y=Y("dep:Q"), detail="id:N", order="i:Q"))
    cont = line_frame(lines_top, clamp_top) + [dict(r, id="u" + r["id"]) for r in line_frame(lines_low, clamp_low)]
    if cont:
        layers.append(alt.Chart(pd.DataFrame(cont)).mark_line(interpolate="catmull-rom", color="#1a1a1a", strokeWidth=line_width).encode(
            x=X("lon:Q"), y=Y("dep:Q"), detail="id:N", order="i:Q"))
    for lo, de in ((SEAMOUNT_LON, SEAMOUNT_DEP), (RIDGE_LON, RIDGE_DEP)):
        df = pd.DataFrame({"lon": lo, "dep": de, "bot": [BOTTOM] * len(lo)})
        layers.append(alt.Chart(df).mark_area(color="#000000").encode(x=X("lon:Q"), y=Y("dep:Q"), y2="bot:Q"))
    if show_dash:
        vd = pd.DataFrame({"lon": [-47.25, -41.25, -47.25, -41.25], "a": [0, 0, GAP_DEPTH, GAP_DEPTH], "b": [1000, 1000, BOTTOM, BOTTOM]})
        layers.append(alt.Chart(vd).mark_rule(color="#111111", strokeWidth=1.2, strokeDash=[6, 4]).encode(
            x=X("lon:Q"), y=Y("a:Q"), y2="b:Q"))
    for spec in labels:
        layers.append(text_layer(spec["rows"], spec["size"], spec.get("color", "#111"), spec.get("weight", "bold"),
                                 spec.get("style", "normal"), spec.get("angle", 0), spec.get("font", FONT), xs, ys))
    layers.append(alt.Chart(frame_df).mark_rect(fillOpacity=0, stroke="#a8a8a8", strokeWidth=1.5).encode(
        x=X("a:Q"), x2="b:Q", y=Y("c:Q"), y2="d:Q"))
    return alt.layer(*layers).resolve_axis(x="independent", y="independent").properties(width=w, height=h)


def colorbar(w, x0, h, dom, edges, scale, ticks, size, pad=7):
    lo = edges[:-1]
    hi = edges[1:]
    df = pd.DataFrame({"lo": lo, "hi": hi, "mid": [(a + b) / 2 for a, b in zip(lo, hi)]})
    ys = alt.Scale(domain=dom, nice=False, zero=False)
    bars = alt.Chart(df).mark_rect().encode(
        x=alt.value(x0), x2=alt.value(w),
        y=alt.Y("lo:Q", scale=ys, axis=alt.Axis(values=ticks, orient="right", labelExpr=PLAIN, title=None, domain=False, ticks=False, grid=False,
                                                labelFontSize=size, labelColor=INK, labelFont=FONT, labelPadding=pad)),
        y2="hi:Q", color=alt.Color("mid:Q", scale=scale, legend=None))
    fr = pd.DataFrame({"a": [edges[0]], "b": [edges[-1]]})
    frame = alt.Chart(fr).mark_rect(fillOpacity=0, stroke="#bdbdbd", strokeWidth=1).encode(
        x=alt.value(x0), x2=alt.value(w), y=alt.Y("a:Q", scale=ys, axis=None), y2="b:Q")
    return alt.layer(bars, frame).resolve_axis(y="independent").properties(width=w, height=h)


# ------------------------------------------------------------------ scales and panels
s_sal = alt.Scale(domain=SAL_DOMAIN, range=SAL_RANGE, interpolate="rgb")
s_tmp = alt.Scale(domain=TMP_DOMAIN, range=TMP_RANGE, interpolate="rgb")
s_d = alt.Scale(domain=D_DOMAIN, range=RDBU, interpolate="rgb")
s_e = alt.Scale(domain=E_DOMAIN, range=RDBU, interpolate="rgb")

WHITE_DASH = dict(color="#f2f2f2", strokeWidth=2, strokeDash=[13, 8])
GREY_LINE = dict(color="#a3a3a3", strokeWidth=2.2)
HEAD = dict(size=19, color="#333", weight="normal")

panel_b = section(424, 277, [0, 88, 96, 273], (SAL_FILL_TOP, SAL_LENS_TOP), (SAL_FILL_LOW, SAL_LENS_LOW), s_sal,
                  SAL_LINES_TOP, SAL_LINES_LOW, WHITE_DASH,
                  [dict(rows=[("South", -50.9, -115), ("North", -35.95, -115)], **HEAD),
                   dict(rows=[("Salinity (PSS-78)", -43.5, -115)], size=18.5, color="#111", weight=900, style="italic"),
                   dict(rows=LABELS_B, size=16),
                   dict(rows=[("SASW", -50.6, 95)], size=16, color="#c9c6e8", style="italic"),
                   dict(rows=CONTOUR_B, size=13, style="italic", weight="normal"),
                   dict(rows=[("b", -51.45, 5130)], size=40, color="#ffffff", weight="bold", font="Open Sans")],
                  True, 19, x_pad=5)
panel_c = section(424, 277, [5, 92, 101, 277], (TMP_FILL_TOP, []), (TMP_FILL_LOW, []), s_tmp, [], [], WHITE_DASH,
                  [dict(rows=[("South", -51, -115), ("North", -36, -115)], **HEAD),
                   dict(rows=[("Temperature (°C)", -44.05, -115)], size=18.5, color="#111", weight=900, style="italic"),
                   dict(rows=LABELS_C, size=16),
                   dict(rows=[("SASW", -51.05, 100), ("TW", -35.6, 125)], size=15.5, color="#f4f4ff"),
                   dict(rows=[("c", -51.3, 5130)], size=40, color="#ffffff", weight="bold", font="Open Sans")],
                  True, 19, label_pad=7, x_pad=8)
panel_d = section(425, 276, [0, 95, 100, 274], ([], D_LENS_TOP), ([], D_LENS_LOW), s_d, D_LINES_TOP, D_LINES_LOW, GREY_LINE,
                  [dict(rows=[("South", -51.1, -105), ("North", -36, -105)], **HEAD),
                   dict(rows=[("d", -51.45, 5130)], size=38, color="#ffffff", weight="bold", font="Open Sans")],
                  False, 15.5, white_patches=False, line_width=2, x_pad=1)
panel_e = section(426, 276, [1, 97, 102, 276], ([], E_LENS_TOP), ([], E_LENS_LOW), s_e, E_LINES_TOP, E_LINES_LOW, GREY_LINE,
                  [dict(rows=[("South", -51.1, -105), ("North", -36, -105)], **HEAD),
                   dict(rows=[("e", -51.4, 5130)], size=38, color="#ffffff", weight="bold", font="Open Sans")],
                  False, 15.5, white_patches=False, line_width=2, x_pad=1)

# colorbars: each y scale runs beyond the bar, so that the bar sits where it does beside its section
cb_b = colorbar(22, 0, 277, [33.444, 35.175], CB_SAL, s_sal, [34, 34.5, 35], 20)
cb_c = colorbar(21, 0, 277, [-7.45, 17.727], CB_TMP, s_tmp, [0, 5, 10, 15], 20)
cb_d = colorbar(22, 9, 276, [-0.2386, 0.2456], CB_D, s_d, [-0.2, -0.1, 0, 0.1, 0.2], 17)
cb_e = colorbar(21, 7, 276, [-1.153, 1.186], CB_E, s_e, [-1, -0.5, 0, 0.5, 1], 16.5, pad=6)
cb_a = colorbar(17, 0, 362, [-54.46, -32.24], CB_LAT, alt.Scale(domain=LAT_DOMAIN, range=LAT_RANGE, interpolate="rgb"), [-50, -45, -40, -35], 19)

# panel a
xa = alt.Scale(domain=[33.9, 35.9], nice=False, zero=False)
ya = alt.Scale(domain=[-2, 20], nice=False, zero=False)
rows_profile = []
for k, (lat, upper, mid) in enumerate(STATIONS):
    for i, (s, t) in enumerate(list(upper) + list(mid)):
        rows_profile.append(dict(st=f"s{k:03d}", lat=lat, i=i, S=s, T=t))
prof = pd.DataFrame(rows_profile)
tips = prof[prof.i <= 1]
body = prof[(prof.i >= 1) & (prof["T"] >= 3.6)]
deep = prof[prof["T"] <= 4.2]
deep2 = pd.DataFrame([dict(st="deep", i=i, lat=-35, S=s, T=t) for i, (s, t) in enumerate(DEEP)])
lat_scale = alt.Scale(domain=LAT_DOMAIN, range=LAT_RANGE, interpolate="rgb")


def profile_layer(df, interp="catmull-rom", **style):
    return alt.Chart(df).mark_line(interpolate=interp, strokeCap="round", **style).encode(
        x=alt.X("S:Q", scale=xa, axis=None), y=alt.Y("T:Q", scale=ya, axis=None),
        color=alt.Color("lat:Q", scale=lat_scale, legend=None), detail="st:N", order="i:Q")


a_layers = [
    alt.Chart(pd.DataFrame({"v": SAL_MINOR})).mark_rule(color="#9a9a9a", strokeWidth=0.8, strokeDash=[1, 3]).encode(
        x=alt.X("v:Q", scale=xa, axis=alt.Axis(values=SAL_TICKS, title=None, domain=False, ticks=False, grid=False, labelFontSize=19.5,
                                               labelColor=INK, labelFont=FONT, labelPadding=9, format=".1f", labelFlush=False))),
    alt.Chart(pd.DataFrame({"v": TEMP_MINOR})).mark_rule(color="#9a9a9a", strokeWidth=0.8, strokeDash=[1, 3]).encode(
        y=alt.Y("v:Q", scale=ya, axis=alt.Axis(values=TEMP_TICKS, title=None, domain=False, ticks=False, grid=False, labelFontSize=20,
                                               labelColor=INK, labelFont=FONT, labelPadding=8))),
    alt.Chart(pd.DataFrame({"v": SAL_GRID})).mark_rule(color="#d0d0d0", strokeWidth=1.2).encode(x=alt.X("v:Q", scale=xa, axis=None)),
    alt.Chart(pd.DataFrame({"v": [5, 10, 15]})).mark_rule(color="#d0d0d0", strokeWidth=1.2).encode(y=alt.Y("v:Q", scale=ya, axis=None)),
    profile_layer(body, strokeWidth=2.7, strokeDash=[0.01, 5.2]),
    profile_layer(deep, strokeWidth=2.6, strokeDash=[0.01, 3.2]),
    profile_layer(tips, interp="linear", strokeWidth=3.4, strokeDash=[17, 2000]),
    profile_layer(deep2, strokeWidth=2.6, strokeDash=[0.01, 3.2]),
    alt.Chart(pd.DataFrame({"v": [34.25, 34.8]})).mark_rule(color="#111111", strokeWidth=2.4, strokeDash=[11, 8]).encode(x=alt.X("v:Q", scale=xa, axis=None)),
    alt.Chart(pd.DataFrame({"v": [0]})).mark_rule(color="#111111", strokeWidth=2.4, strokeDash=[11, 8]).encode(y=alt.Y("v:Q", scale=ya, axis=None)),
    alt.Chart(pd.DataFrame([dict(id=k, i=i, S=s, T=t) for k, seg in enumerate(ISO_SEGMENTS) for i, (s, t) in enumerate(seg)]))
    .mark_line(color="#000000", strokeWidth=3.4, interpolate="monotone").encode(
        x=alt.X("S:Q", scale=xa, axis=None), y=alt.Y("T:Q", scale=ya, axis=None), detail="id:N", order="i:Q"),
    text_layer(LABELS_A, 16, "#222", "normal", xs=xa, ys=ya),
    text_layer([("26.35", 35.32, 14.65)], 15, "#e02020", "normal", angle=346, xs=xa, ys=ya),
    text_layer([("27.1", 34.27, 6.05)], 14, "#e02020", "normal", angle=335, xs=xa, ys=ya),
    text_layer([("a", 33.98, 19.3)], 26, "#111", "bold", font="Open Sans", xs=xa, ys=ya),
    text_layer([("Meridional Section 45°W", 34.93, 20.67)], 24.5, "#111", "bold", xs=xa, ys=ya),
    text_layer([("Pot. Temp. (°C)", 33.66, 9.0)], 24, "#333", "normal", angle=270, xs=xa, ys=ya),
    text_layer([("Salinity", 34.79, -5.05)], 23, "#333", "normal", xs=xa, ys=ya),
    text_layer([("(PSS-78)", 35.18, -5.05)], 20, "#333", "normal", xs=xa, ys=ya),
    alt.Chart(pd.DataFrame({"a": [33.9], "b": [35.9], "c": [-2], "d": [20]})).mark_rect(fillOpacity=0, stroke="#666666", strokeWidth=1.5).encode(
        x=alt.X("a:Q", scale=xa, axis=None), x2="b:Q", y=alt.Y("c:Q", scale=ya, axis=None), y2="d:Q"),
]
panel_a = alt.layer(*a_layers).resolve_axis(x="independent", y="independent").properties(width=416, height=362)

row_a = alt.hconcat(gap(273, 1), panel_a, gap(12, 1), cb_a, spacing=0, bounds="flush").resolve_scale(color="independent")
grid = alt.concat(
    panel_b, gap(20, 1), cb_b, gap(99, 1), panel_c, gap(24, 1), cb_c,
    panel_d, gap(20, 1), cb_d, gap(99, 1), panel_e, gap(24, 1), cb_e,
    columns=7, spacing={"row": 50.5, "column": 0}, bounds="flush", align="each",
).resolve_scale(color="independent")
chart = alt.vconcat(row_a, grid, spacing=20.5).resolve_scale(color="independent").properties(
    padding={"left": 3, "top": -2, "right": 0, "bottom": 0}).configure_view(stroke=None)

chart.save("out.html", embed_options={"renderer": "svg", "actions": False})
